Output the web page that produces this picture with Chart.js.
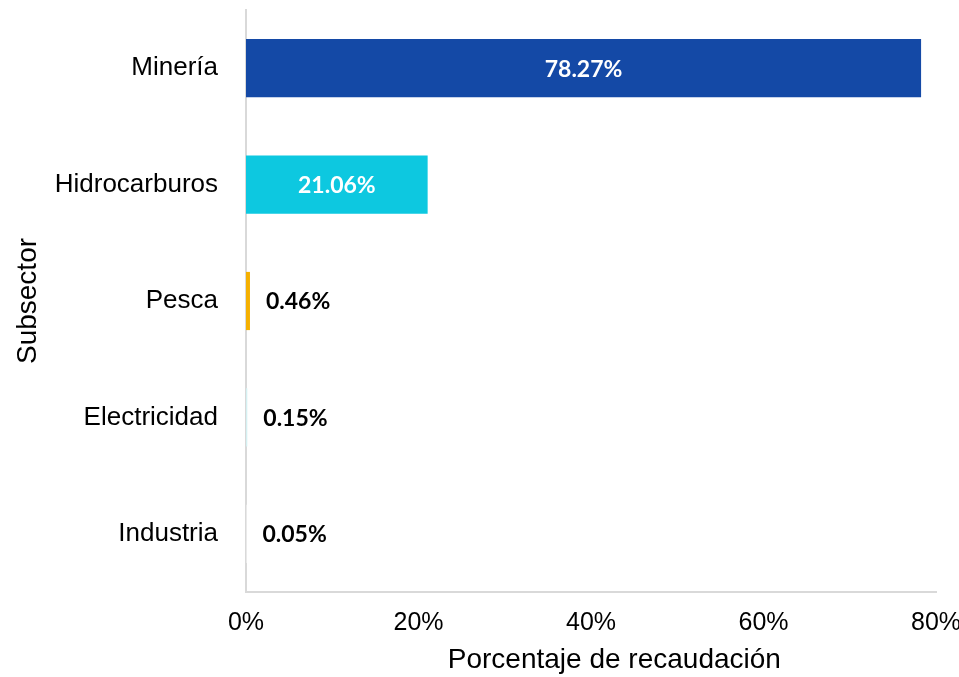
<!DOCTYPE html>
<html>
<head>
<meta charset="utf-8">
<script src="https://cdn.jsdelivr.net/npm/chart.js@4"></script>
<style>
  html, body { margin: 0; padding: 0; background: #fff; overflow: hidden; }
  #wrap { width: 959px; height: 677px; }
</style>
</head>
<body>
<div id="wrap"><canvas id="myChart" width="959" height="677"></canvas></div>
<script>
const subsectores = ["Minería", "Hidrocarburos", "Pesca", "Electricidad", "Industria"];
const recaudacion = [78.27, 21.06, 0.46, 0.15, 0.05];
const colores = ["#1449A6", "#0DC8E0", "#F5B000", "#D4F0F2", "#FFFFFF"];
const ticksX = [0, 20, 40, 60, 80];

// etiquetas de valor sobre las barras
const etiquetas = {
  id: "etiquetas",
  afterDatasetsDraw(chart) {
    const ctx = chart.ctx;
    const meta = chart.getDatasetMeta(0);
    ctx.save();
    ctx.font = "bold 23px Lato";
    ctx.textBaseline = "middle";
    meta.data.forEach((bar, i) => {
      const v = recaudacion[i];
      const txt = v.toFixed(2) + "%";
      if (v > 10) {
        ctx.fillStyle = "#ffffff";
        ctx.textAlign = "center";
        ctx.fillText(txt, (bar.x + bar.base) / 2, bar.y + 1);
      } else {
        ctx.fillStyle = "#000000";
        ctx.textAlign = "left";
        ctx.fillText(txt, bar.x + 16, bar.y + 1);
      }
    });
    ctx.restore();
  },
};

function main() {
  const ctx = document.getElementById("myChart").getContext("2d");
  new Chart(ctx, {
    type: "bar",
    data: {
      labels: subsectores,
      datasets: [
        {
          data: recaudacion,
          backgroundColor: colores,
          barPercentage: 0.5,
          categoryPercentage: 1,
        },
      ],
    },
    options: {
      indexAxis: "y",
      responsive: false,
      animation: false,
      layout: { padding: { top: 10, right: 23, left: 0, bottom: 0 } },
      plugins: {
        legend: { display: false },
        tooltip: { enabled: false },
      },
      scales: {
        x: {
          min: 0,
          max: 80,
          afterBuildTicks(scale) {
            scale.ticks = ticksX.map((v) => ({ value: v }));
          },
          afterFit(scale) {
            scale.height = 85;
            scale.paddingRight = 0;
            scale.paddingLeft = 0;
          },
          grid: { display: false, drawTicks: false },
          border: { display: true, color: "#d9d9d9", width: 2 },
          ticks: {
            padding: 16,
            color: "#000",
            font: { family: "Liberation Sans", size: 25 },
            callback: (v) => v + "%",
          },
          title: {
            display: true,
            text: "\u00A0\u00A0\u00A0\u00A0\u00A0\u00A0Porcentaje de recaudación",
            color: "#000",
            font: { family: "Liberation Sans", size: 28 },
            padding: { top: 0, bottom: 0 },
          },
        },
        y: {
          afterFit(scale) {
            scale.width = 246;
            scale.paddingTop = 0;
            scale.paddingBottom = 0;
          },
          grid: { display: false, drawTicks: false },
          border: { display: true, color: "#d9d9d9", width: 2 },
          ticks: {
            padding: 28,
            color: "#000",
            font: { family: "Liberation Sans", size: 26 },
          },
          title: {
            display: true,
            text: "Subsector",
            color: "#000",
            font: { family: "Liberation Sans", size: 28 },
            padding: { top: 11, bottom: 0 },
          },
        },
      },
    },
    plugins: [etiquetas],
  });
}

if (typeof document !== "undefined") {
  document.addEventListener("DOMContentLoaded", main);
}
</script>
</body>
</html>
